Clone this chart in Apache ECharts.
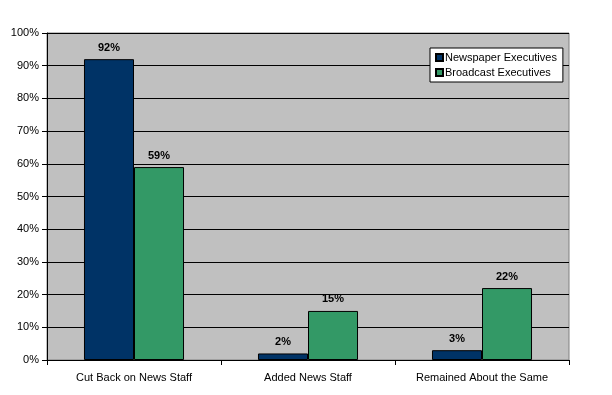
<!DOCTYPE html>
<html><head><meta charset="utf-8">
<script src="https://cdn.jsdelivr.net/npm/echarts@6/dist/echarts.min.js"></script>
<style>html,body{margin:0;padding:0;background:#fff}#c{width:612px;height:395px}</style>
</head><body><div id="c"></div>
<script>
const categories = ['Cut Back on News Staff', 'Added News Staff', 'Remained About the Same'];
const newspaper = [92, 2, 3];
const broadcast = [59, 15, 22];
const yTicks = [0,10,20,30,40,50,60,70,80,90,100];

const chart = echarts.init(document.getElementById('c'), null, {renderer:'canvas'});
const font = 'Arial, "Liberation Sans", sans-serif';
chart.setOption({
  animation: false,
  textStyle: {fontFamily: font},
  grid: {left: 47, right: 43, top: 33, bottom: 35, show: true, backgroundColor: '#C0C0C0', borderColor: '#808080', borderWidth: 1},
  legend: {
    orient: 'vertical', left: 430, top: 48, width: 134,
    backgroundColor: '#fff', borderColor: '#000', borderWidth: 1,
    padding: [4, 6, 4, 5], itemGap: 4, itemWidth: 7, itemHeight: 7,
    icon: 'rect',
    textStyle: {fontSize: 11, color: '#000', fontFamily: font, padding: [0,0,0,-3]},
    data: ['Newspaper Executives', 'Broadcast Executives']
  },
  xAxis: {
    type: 'category', data: categories,
    axisLine: {lineStyle: {color: '#000', width: 1}},
    axisTick: {show: true, length: 5, lineStyle: {color: '#000'}},
    axisLabel: {fontSize: 11, color: '#000', margin: 12, fontFamily: font}
  },
  yAxis: {
    type: 'value', min: yTicks[0], max: yTicks[yTicks.length-1], interval: 10,
    axisLine: {show: true, lineStyle: {color: '#000', width: 1}},
    axisTick: {show: true, length: 5, lineStyle: {color: '#000'}},
    splitLine: {lineStyle: {color: '#000', width: 1}},
    axisLabel: {fontSize: 11, color: '#000', margin: 8, formatter: '{value}%', fontFamily: font}
  },
  series: [
    {name: 'Newspaper Executives', type: 'bar', data: newspaper, barGap: '0%', barCategoryGap: '42.5%',
     itemStyle: {color: '#003366', borderColor: '#000', borderWidth: 1},
     label: {show: true, position: 'top', formatter: '{c}%', fontSize: 11, fontWeight: 'bold', color: '#000', distance: 6, fontFamily: font}},
    {name: 'Broadcast Executives', type: 'bar', data: broadcast,
     itemStyle: {color: '#339966', borderColor: '#000', borderWidth: 1},
     label: {show: true, position: 'top', formatter: '{c}%', fontSize: 11, fontWeight: 'bold', color: '#000', distance: 6, fontFamily: font}}
  ]
});
</script></body></html>
